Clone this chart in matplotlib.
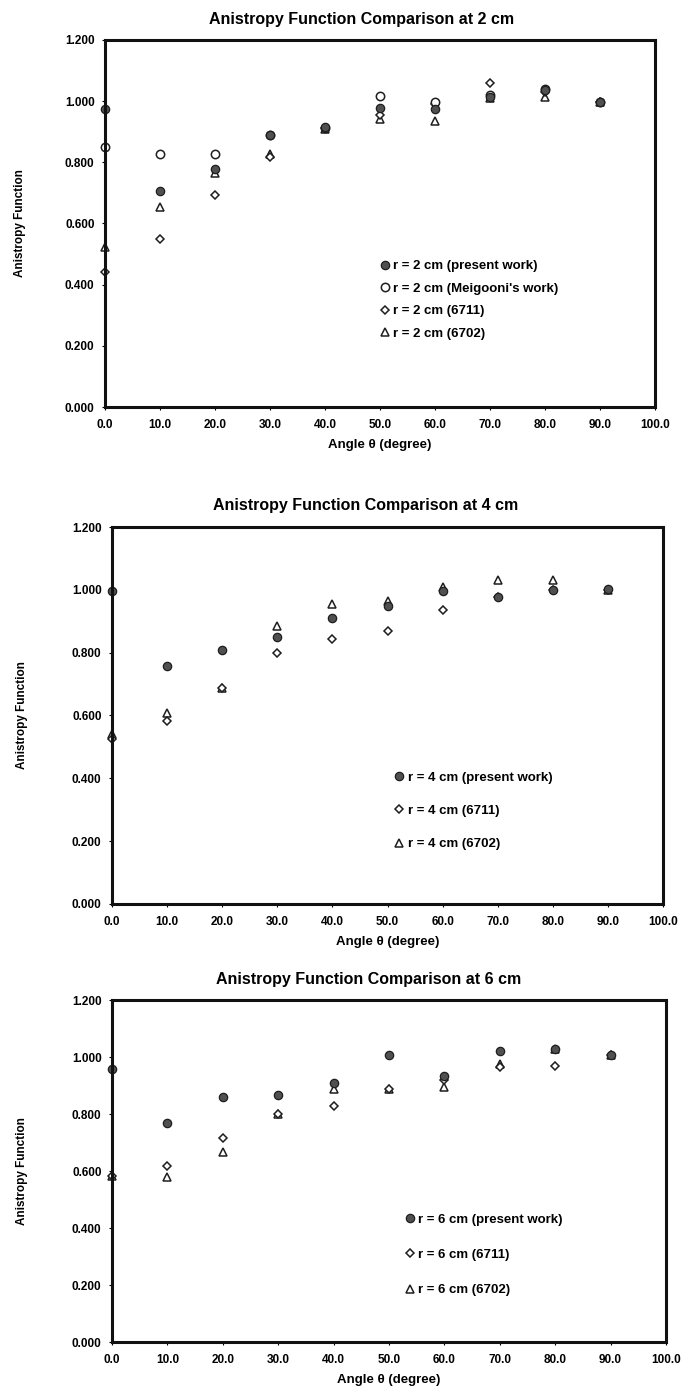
import matplotlib
matplotlib.use("Agg")
import matplotlib.pyplot as plt
from matplotlib.ticker import FormatStrFormatter

plt.rcParams["font.family"] = ["Liberation Sans", "DejaVu Sans"]
plt.rcParams["font.weight"] = "bold"

angles = [0, 10, 20, 30, 40, 50, 60, 70, 80, 90]

# r = 2 cm
present_2 = [0.973, 0.707, 0.779, 0.889, 0.915, 0.978, 0.974, 1.014, 1.036, 0.996]
meigooni_2 = [0.850, 0.828, 0.828, 0.890, 0.913, 1.016, 0.998, 1.020, 1.040, 0.998]
s6711_2 = [0.440, 0.550, 0.692, 0.817, 0.913, 0.954, 0.990, 1.058, 1.030, 0.998]
s6702_2 = [0.522, 0.654, 0.765, 0.826, 0.910, 0.940, 0.935, 1.010, 1.014, 0.996]

# r = 4 cm
present_4 = [0.996, 0.758, 0.809, 0.851, 0.909, 0.950, 0.996, 0.977, 1.000, 1.003]
s6711_4 = [0.525, 0.581, 0.686, 0.800, 0.844, 0.868, 0.937, 0.977, 1.000, 1.000]
s6702_4 = [0.540, 0.607, 0.686, 0.885, 0.955, 0.963, 1.009, 1.030, 1.030, 1.000]

# r = 6 cm
present_6 = [0.959, 0.768, 0.858, 0.868, 0.908, 1.008, 0.935, 1.020, 1.027, 1.006]
s6711_6 = [0.582, 0.618, 0.717, 0.800, 0.827, 0.888, 0.918, 0.965, 0.968, 1.006]
s6702_6 = [0.582, 0.579, 0.665, 0.800, 0.888, 0.888, 0.896, 0.976, 1.027, 1.006]

titles = ["Anistropy Function Comparison at 2 cm",
          "Anistropy Function Comparison at 4 cm",
          "Anistropy Function Comparison at 6 cm"]

filled = dict(marker="o", ms=6, mfc="#505050", mec="#1e1e1e", mew=0.9, ls="none")
opencirc = dict(marker="o", ms=6, mfc="white", mec="#1e1e1e", mew=1.1, ls="none")
diamond = dict(marker="D", ms=4.0, mfc="white", mec="#1e1e1e", mew=1.1, ls="none")
triangle = dict(marker="^", ms=6, mfc="white", mec="#1e1e1e", mew=1.1, ls="none")


def style_axes(ax, ylab_x):
    ax.set_xlim(0, 100)
    ax.set_ylim(0, 1.2)
    ax.set_xticks(range(0, 101, 10))
    ax.set_yticks([0, 0.2, 0.4, 0.6, 0.8, 1.0, 1.2])
    ax.xaxis.set_major_formatter(FormatStrFormatter("%.1f"))
    ax.yaxis.set_major_formatter(FormatStrFormatter("%.3f"))
    for s in ax.spines.values():
        s.set_linewidth(2.2)
        s.set_color("#111111")
    ax.tick_params(length=2.5, width=0.8, labelsize=8.5)
    ax.tick_params(axis="x", pad=6)
    ax.tick_params(axis="y", pad=5)
    ax.set_xlabel("Angle θ (degree)", fontsize=9.5, fontweight="bold", labelpad=6)
    ax.set_ylabel("Anistropy Function", fontsize=8.5, fontweight="bold")
    ax.yaxis.set_label_coords(ylab_x, 0.5)
    ax.patch.set_alpha(0)


def add_legend(ax, x, y, spacing):
    h, l = ax.get_legend_handles_labels()
    ax.legend(h[::-1], l[::-1], loc="upper left", bbox_to_anchor=(x, y),
              frameon=False, fontsize=9.5, borderpad=0, handlelength=0.8,
              handletextpad=0.25, labelspacing=spacing)


fig = plt.figure(figsize=(6.83, 13.92), dpi=100)

ax1 = fig.add_axes([0.1537, 0.7076, 0.8053, 0.2637])
ax1.plot(angles, s6702_2, label="r = 2 cm (6702)", clip_on=False, **triangle)
ax1.plot(angles, s6711_2, label="r = 2 cm (6711)", clip_on=False, **diamond)
ax1.plot(angles, meigooni_2, label="r = 2 cm (Meigooni's work)", clip_on=False, **opencirc)
ax1.plot(angles, present_2, label="r = 2 cm (present work)", clip_on=False, **filled)
style_axes(ax1, -0.144)
add_legend(ax1, 0.487, 0.418, 0.78)

ax2 = fig.add_axes([0.164, 0.3506, 0.8067, 0.2708])
ax2.plot(angles, s6702_4, label="r = 4 cm (6702)", clip_on=False, **triangle)
ax2.plot(angles, s6711_4, label="r = 4 cm (6711)", clip_on=False, **diamond)
ax2.plot(angles, present_4, label="r = 4 cm (present work)", clip_on=False, **filled)
style_axes(ax2, -0.152)
add_legend(ax2, 0.50, 0.369, 1.6)

ax3 = fig.add_axes([0.164, 0.0359, 0.8111, 0.2457])
ax3.plot(angles, s6702_6, label="r = 6 cm (6702)", clip_on=False, **triangle)
ax3.plot(angles, s6711_6, label="r = 6 cm (6711)", clip_on=False, **diamond)
ax3.plot(angles, present_6, label="r = 6 cm (present work)", clip_on=False, **filled)
style_axes(ax3, -0.152)
add_legend(ax3, 0.516, 0.395, 1.75)

# titles sit a little left of the plot centre in the original
fig.text(0.530, 0.9860, titles[0], ha="center", va="center", fontsize=11.5, fontweight="bold")
fig.text(0.536, 0.6372, titles[1], ha="center", va="center", fontsize=11.5, fontweight="bold")
fig.text(0.539, 0.2960, titles[2], ha="center", va="center", fontsize=11.5, fontweight="bold")

fig.savefig("out.png", dpi=100)
